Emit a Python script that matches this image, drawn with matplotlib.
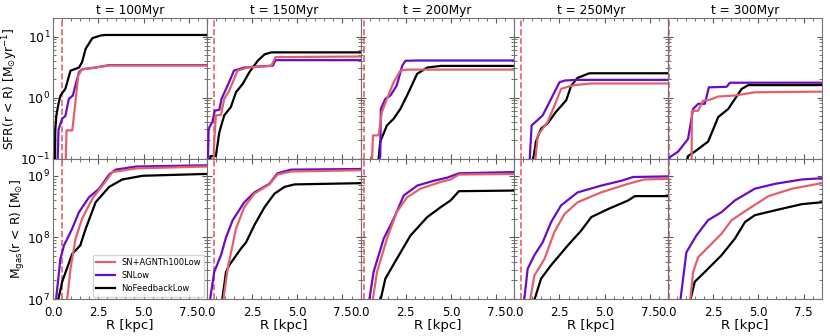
import numpy as np
import matplotlib.pyplot as plt
from matplotlib.ticker import AutoMinorLocator

times = [100, 150, 200, 250, 300]
r_bh = [0.5, 0.37, 0.17, 0.39, 0.07]   # red dashed marker per snapshot [kpc]

labels = ['SN+AGNTh100Low', 'SNLow', 'NoFeedbackLow']
colors = ['#e2606e', '#6a0cc4', 'black']

# cumulative SFR [Msun/yr] vs R [kpc], one list per snapshot
sfr_agn_R = [
    [0.68, 0.74, 0.78, 1.06, 1.15, 1.39, 1.6, 2.3, 3.1, 8.5],
    [0.35, 0.4, 0.5, 0.78, 0.96, 1.24, 1.7, 2.26, 3.56, 3.8, 8.5],
    [0.59, 0.69, 1.0, 1.18, 1.46, 1.83, 2.2, 2.57, 8.5],
    [1.07, 1.3, 1.57, 1.85, 2.3, 2.59, 2.96, 3.33, 4.26, 8.5],
    [1.3, 1.32, 1.67, 1.94, 2.31, 2.78, 3.7, 4.8, 8.5],
]
sfr_agn = [
    [0.05, 0.29, 0.29, 0.29, 0.5, 2.3, 2.9, 3.1, 3.35, 3.35],
    [0.05, 0.17, 0.51, 0.52, 0.95, 1.3, 2.76, 3.1, 3.3, 4.6, 4.7],
    [0.05, 0.24, 0.24, 0.58, 0.95, 1.78, 2.76, 2.87, 2.87],
    [0.05, 0.24, 0.31, 0.4, 0.84, 1.39, 1.5, 1.6, 1.7, 1.7],
    [0.05, 0.6, 0.61, 0.89, 0.92, 1.04, 1.08, 1.22, 1.25],
]
sfr_sn_R = [
    [0.22, 0.3, 0.5, 0.68, 0.87, 1.09, 1.24, 1.43, 1.6, 2.35, 3.1, 8.5],
    [0.04, 0.1, 0.31, 0.44, 0.69, 0.81, 1.06, 1.3, 1.5, 2.07, 2.6, 3.65, 3.8, 8.5],
    [0.81, 1.09, 1.12, 1.37, 1.65, 2.0, 2.3, 2.48, 3.13, 8.5],
    [0.8, 0.96, 1.26, 1.57, 1.85, 2.22, 2.5, 2.78, 3.5, 8.5],
    [0.05, 0.09, 0.56, 1.11, 1.39, 1.67, 2.04, 2.26, 3.24, 3.43, 8.5],
]
sfr_sn = [
    [0.05, 0.3, 0.45, 0.5, 0.95, 1.08, 1.6, 2.6, 2.9, 3.1, 3.4, 3.4],
    [0.05, 0.31, 0.4, 0.61, 0.63, 0.95, 1.38, 2.0, 2.76, 3.1, 3.2, 3.33, 4.1, 4.1],
    [0.05, 0.11, 0.65, 0.95, 1.08, 1.57, 3.3, 4.0, 4.05, 4.05],
    [0.05, 0.35, 0.42, 0.51, 0.74, 1.22, 1.78, 1.9, 1.95, 1.95],
    [0.08, 0.105, 0.13, 0.21, 0.65, 0.79, 0.79, 1.47, 1.5, 1.75, 1.75],
]
sfr_nofb_R = [
    [0.09, 0.12, 0.18, 0.3, 0.4, 0.68, 0.96, 1.43, 1.6, 1.8, 2.17, 2.63, 2.9, 8.5],
    [0.15, 0.2, 0.5, 0.69, 0.96, 1.33, 1.61, 1.98, 2.35, 2.81, 3.19, 3.56, 8.5],
    [0.9, 1.09, 1.46, 1.83, 2.2, 2.57, 3.13, 3.69, 4.43, 8.5],
    [0.89, 1.2, 1.48, 1.85, 2.3, 2.87, 3.15, 3.5, 4.15, 8.5],
    [0.89, 1.11, 1.48, 2.22, 2.78, 3.33, 3.7, 4.07, 4.44, 8.5],
]
sfr_nofb = [
    [0.05, 0.3, 0.51, 0.8, 1.07, 1.4, 2.75, 3.1, 3.8, 6.3, 9.4, 10.4, 10.6, 10.6],
    [0.05, 0.11, 0.11, 0.27, 0.51, 0.7, 1.22, 1.67, 2.6, 4.0, 5.1, 5.5, 5.5],
    [0.05, 0.19, 0.35, 0.45, 0.65, 1.08, 2.45, 3.1, 3.3, 3.3],
    [0.05, 0.19, 0.31, 0.38, 0.58, 0.9, 1.57, 2.1, 2.5, 2.5],
    [0.05, 0.11, 0.13, 0.19, 0.48, 0.65, 0.95, 1.38, 1.6, 1.6],
]

# cumulative gas mass, log10(M/Msun) vs R [kpc]
mgas_agn_R = [
    [0.74, 0.96, 1.24, 1.6, 2.17, 2.72, 3.28, 4.6, 8.5],
    [0.87, 1.15, 1.61, 2.07, 2.63, 3.46, 3.9, 4.67, 8.5],
    [0.63, 0.91, 1.46, 2.0, 2.57, 3.31, 4.43, 4.98, 5.44, 8.5],
    [0.83, 1.11, 1.67, 2.22, 2.78, 3.5, 4.8, 6.3, 7.2, 8.5],
    [1.2, 1.39, 1.67, 2.22, 2.96, 3.52, 4.44, 5.56, 6.85, 8.5],
]
mgas_agn = [
    [6.9, 7.49, 7.98, 8.3, 8.63, 8.84, 9.06, 9.12, 9.15],
    [6.9, 7.49, 8.14, 8.49, 8.71, 8.86, 9.02, 9.07, 9.09],
    [6.9, 7.44, 7.98, 8.41, 8.65, 8.79, 8.9, 8.94, 9.02, 9.03],
    [6.9, 7.38, 7.65, 8.09, 8.38, 8.57, 8.73, 8.87, 8.94, 8.95],
    [6.9, 7.44, 7.68, 7.84, 8.06, 8.28, 8.46, 8.67, 8.79, 8.88],
]
mgas_sn_R = [
    [0.13, 0.4, 0.6, 1.05, 1.43, 1.98, 2.54, 3.1, 3.46, 4.6, 8.5],
    [0.13, 0.41, 0.78, 1.06, 1.43, 2.07, 2.63, 3.46, 3.9, 4.67, 8.5],
    [0.44, 0.72, 1.28, 1.83, 2.39, 3.13, 4.06, 4.8, 5.44, 8.5],
    [0.52, 0.74, 1.11, 1.57, 2.04, 2.59, 3.5, 4.8, 5.93, 6.57, 8.5],
    [0.65, 1.02, 1.57, 2.22, 2.96, 3.7, 4.8, 5.93, 7.41, 8.5],
]
mgas_sn = [
    [6.9, 7.65, 7.87, 8.14, 8.41, 8.65, 8.79, 9.02, 9.1, 9.15, 9.17],
    [6.9, 7.44, 7.71, 8.0, 8.28, 8.57, 8.73, 8.87, 9.04, 9.1, 9.11],
    [6.9, 7.44, 7.98, 8.3, 8.68, 8.84, 8.92, 8.97, 9.04, 9.06],
    [6.9, 7.49, 7.71, 7.92, 8.25, 8.52, 8.73, 8.84, 8.92, 8.98, 8.99],
    [6.9, 7.76, 8.03, 8.28, 8.41, 8.6, 8.79, 8.87, 8.94, 8.96],
]
mgas_nofb_R = [
    [0.22, 0.5, 1.05, 1.5, 1.8, 2.35, 3.1, 3.83, 4.94, 8.5],
    [0.81, 1.06, 1.24, 1.89, 2.17, 2.63, 3.19, 3.74, 4.3, 4.85, 8.5],
    [1.04, 1.37, 2.0, 2.76, 3.69, 4.43, 4.98, 5.44, 8.5],
    [1.02, 1.48, 2.04, 2.96, 3.7, 4.26, 5.19, 6.3, 6.67, 8.5],
    [1.17, 1.48, 2.04, 2.96, 3.7, 4.26, 4.8, 5.93, 7.41, 8.5],
]
mgas_nofb = [
    [6.9, 7.28, 7.73, 7.87, 8.14, 8.57, 8.82, 8.94, 9.0, 9.03],
    [6.9, 7.44, 7.55, 7.82, 7.92, 8.2, 8.49, 8.71, 8.82, 8.86, 8.88],
    [6.9, 7.33, 7.65, 8.03, 8.33, 8.49, 8.6, 8.75, 8.76],
    [6.9, 7.33, 7.55, 7.87, 8.11, 8.33, 8.46, 8.6, 8.67, 8.67],
    [6.9, 7.28, 7.44, 7.71, 7.98, 8.25, 8.36, 8.44, 8.54, 8.57],
]

plt.rcParams['font.size'] = 9

fig, axes = plt.subplots(2, 5, figsize=(8.3, 3.36), dpi=100, sharex=True, sharey='row')
fig.subplots_adjust(left=0.064, right=0.99, top=0.946, bottom=0.11, wspace=0, hspace=0)

sfr_sets = [(sfr_agn_R, sfr_agn), (sfr_sn_R, sfr_sn), (sfr_nofb_R, sfr_nofb)]
mgas_sets = [(mgas_agn_R, mgas_agn), (mgas_sn_R, mgas_sn), (mgas_nofb_R, mgas_nofb)]

for i, t in enumerate(times):
    ax_top = axes[0, i]
    ax_bot = axes[1, i]
    for k, (rr, vv) in enumerate(sfr_sets):
        ax_top.plot(rr[i], vv[i], color=colors[k], lw=1.6, zorder=3 - k * 0.1)
    for k, (rr, vv) in enumerate(mgas_sets):
        ax_bot.plot(rr[i], 10 ** np.array(vv[i]), color=colors[k], lw=1.6,
                    label=labels[k], zorder=3 - k * 0.1)
    for ax in (ax_top, ax_bot):
        ax.axvline(r_bh[i], color=colors[0], ls='--', lw=1.2)
        ax.set_yscale('log')
        ax.tick_params(which='both', direction='in', top=True, right=True, color='0.35')
        ax.tick_params(axis='y', pad=2, labelsize=9)
        ax.tick_params(axis='x', pad=5, labelsize=8.4)
        ax.xaxis.set_minor_locator(AutoMinorLocator(5))
        for sp in ax.spines.values():
            sp.set_color('0.45')
    ax_top.set_title(f't = {t}Myr', fontsize=8.7, pad=3)
    ax_bot.set_xlabel('R [kpc]', fontsize=9.5, labelpad=0)

axes[0, 0].set_xlim(0, 8.5)
axes[0, 0].set_xticks([0, 2.5, 5, 7.5])
axes[0, 0].set_ylim(0.1, 20)
axes[1, 0].set_ylim(1e7, 1.9e9)
axes[0, 0].set_ylabel(r'SFR(r < R) [M$_{\odot}$yr$^{-1}$]', fontsize=8.8, labelpad=0)
axes[1, 0].set_ylabel(r'M$_{\rm gas}$(r < R) [M$_{\odot}$]', fontsize=8.8, labelpad=0)
axes[1, 0].legend(loc='lower right', fontsize=6, handlelength=2.2, borderaxespad=0.3)

fig.savefig('out.png', dpi=100)
